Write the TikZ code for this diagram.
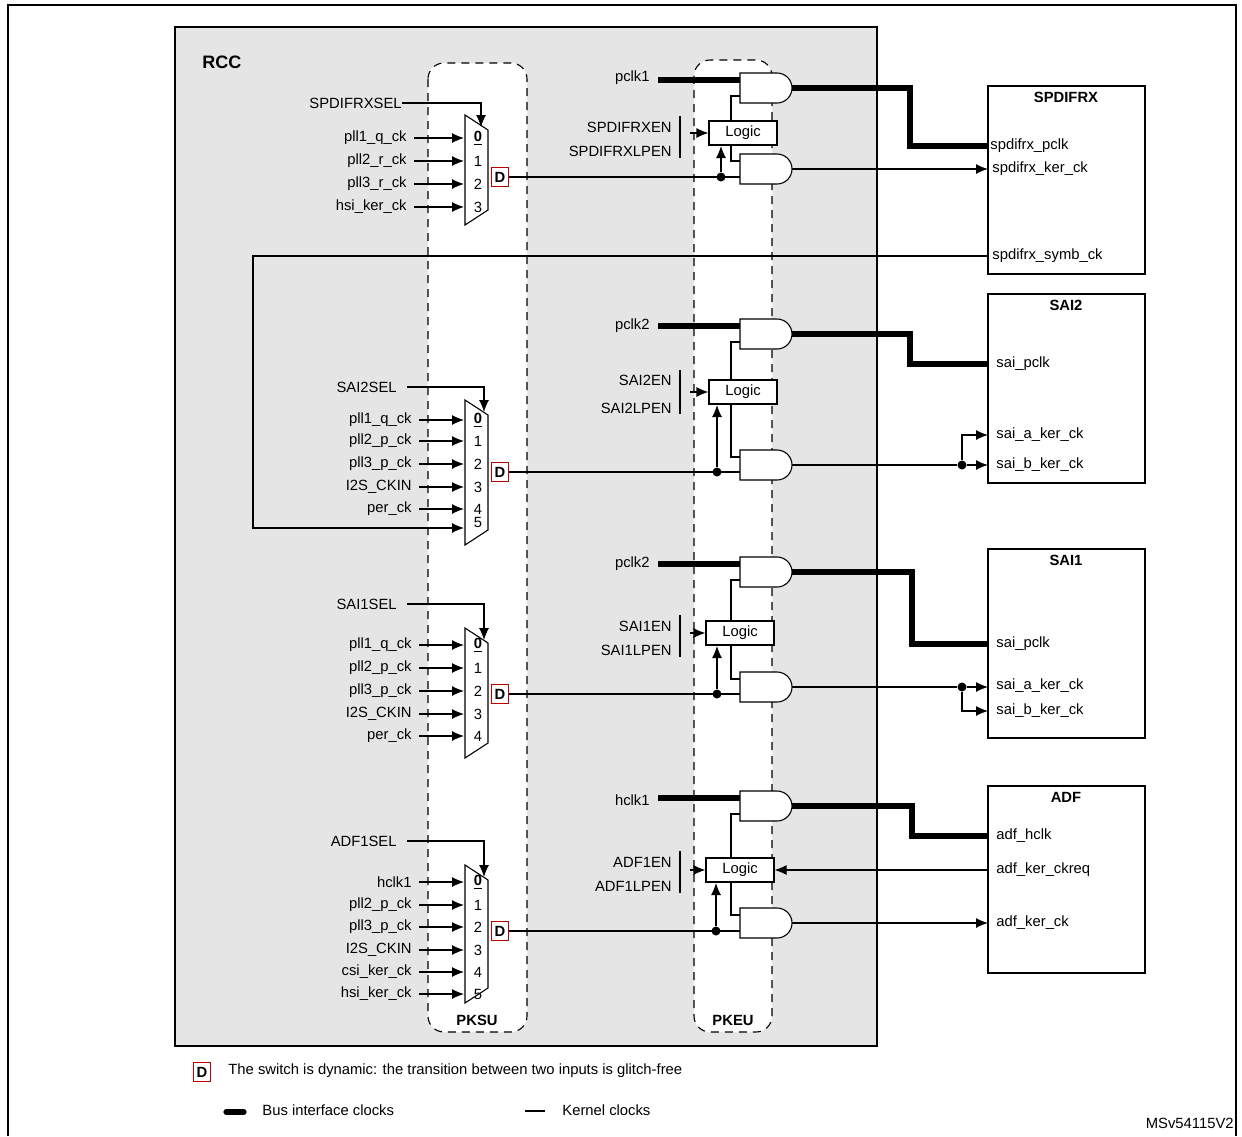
\documentclass[tikz,border=0pt]{standalone}
\usepackage{fontspec}
\setmainfont{Liberation Sans}
\usetikzlibrary{arrows.meta}
\newcommand\lab{\fontsize{7.4}{8.6}\selectfont}
\newcommand\myand[2]{\draw[thn,fill=white] (740,#2-15) -- (777,#2-15) arc[start angle=-90,end angle=90,radius=15] -- (740,#2+15) -- cycle; \coordinate (#1) at (792,#2);}
\newcommand\muxin[4]{\node[r] at (#1,#2){#3}; \draw[ar] (#1+7,#2) -- (464,#2); \node[lbl] at (478,#2){#4};}
\newcommand\dbox[2]{\node[dbx] (#1) at (500,#2){D};}
\begin{document}
\begin{tikzpicture}[x=0.5pt,y=-0.5pt,
 lbl/.style={font=\lab,inner sep=0},
 r/.style={lbl,anchor=east}, l/.style={lbl,anchor=west},
 bt/.style={font=\lab\bfseries,inner sep=0},
 thn/.style={line width=0.55pt},
 ar/.style={thn,-{Latex[length=6pt,width=5pt]}},
 bus/.style={line width=2.6pt},
 dsh/.style={thn,dash pattern=on 4pt off 3pt,rounded corners=8pt,fill=white},
 dbx/.style={draw=red!75!black,fill=white,font=\lab\bfseries,minimum width=8.5pt,minimum height=9.5pt,inner sep=0.5pt,line width=0.5pt},
 logic/.style={draw,thn,fill=white,font=\lab,minimum width=34pt,minimum height=12pt,inner sep=0},
 blk/.style={draw,line width=1pt},
 dot/.style={circle,fill,inner sep=0,minimum size=4.5pt}]
\useasboundingbox (0,0) rectangle (1242,1136);
\fill[white] (0,0) rectangle (1242,1136);
\draw[line width=0.9pt] (8,1136) -- (8,5) -- (1236,5) -- (1236,1136);
% RCC
\draw[line width=1pt,fill=black!10] (175,27) rectangle (877,1046);
\node[bt,font=\fontsize{9}{10}\selectfont\bfseries,anchor=west] (rcc) at (202,62){RCC};
\draw[dsh] (428,63) rectangle (527,1032);
\draw[dsh] (694,60) rectangle (772,1032);
\node[bt] (pksu) at (477,1020){PKSU};
\node[bt] (pkeu) at (733,1020){PKEU};
% peripheral boxes
\draw[blk,fill=white] (988,86) rectangle (1145,274);
\node[bt] at (1066,97){SPDIFRX};
\draw[blk,fill=white] (988,294) rectangle (1145,483);
\node[bt] at (1066,305){SAI2};
\draw[blk,fill=white] (988,549) rectangle (1145,738);
\node[bt] at (1066,560){SAI1};
\draw[blk,fill=white] (988,786) rectangle (1145,973);
\node[bt] at (1066,797){ADF};

%%%%% Block 1 SPDIFRX
\draw[thn,fill=white] (465,115) -- (488,130) -- (488,210) -- (465,225) -- cycle;
\node[r] (sel1) at (402,103){SPDIFRXSEL};
\draw[ar] (sel1.east) -- (481,103) -- (481,127);
\muxin{407}{138}{pll1\_q\_ck}{\underline{\textbf{0}}}
\muxin{407}{161}{pll2\_r\_ck}{1}
\muxin{407}{184}{pll3\_r\_ck}{2}
\muxin{407}{207}{hsi\_ker\_ck}{3}
\myand{g11}{88}
\myand{g12}{169}
\node[logic] (lg1) at (743,133){Logic};
\node[r] at (672,127){SPDIFRXEN};
\node[r] at (672,151){SPDIFRXLPEN};
\draw[thn] (680,116) -- (680,158);
\draw[ar] (690,133) -- (lg1.west);
\node[r] (pc1) at (650,78){pclk1};
\draw[bus] (658,80) -- (740,80);
\draw[thn] (lg1.north -| 731,0) -- (731,96) -- (740,96);
\draw[thn] (lg1.south -| 731,0) -- (731,161) -- (740,161);
\dbox{d1}{177}
\draw[thn] (d1.east) -- (740,177);
\node[dot] (dt1) at (721,177){};
\draw[ar] (dt1) -- (721,146);
\draw[bus] (g11) -- (910,88) -- (910,146) -- (988,146);
\draw[ar] (g12) -- (988,169);
\node[l] at (990,146){spdifrx\_pclk};
\node[l] at (992,169){spdifrx\_ker\_ck};
\node[l] at (992,256){spdifrx\_symb\_ck};

%%%%% Block 2 SAI2
\draw[thn,fill=white] (465,400) -- (488,415) -- (488,530) -- (465,545) -- cycle;
\node[r] (sel2) at (397,387){SAI2SEL};
\draw[ar] (407,387) -- (484,387) -- (484,412);
\muxin{412}{420}{pll1\_q\_ck}{\underline{\textbf{0}}}
\muxin{412}{441}{pll2\_p\_ck}{1}
\muxin{412}{464}{pll3\_p\_ck}{2}
\muxin{412}{487}{I2S\_CKIN}{3}
\muxin{412}{509}{per\_ck}{4}
\node[lbl] at (478,522){5};
\draw[ar] (988,256) -- (253,256) -- (253,528) -- (464,528);
\myand{g21}{334}
\myand{g22}{465}
\node[logic] (lg2) at (743,392){Logic};
\node[r] at (672,380){SAI2EN};
\node[r] at (672,408){SAI2LPEN};
\draw[thn] (680,370) -- (680,414);
\draw[ar] (690,392) -- (lg2.west);
\node[r] at (650,326){pclk2};
\draw[bus] (658,326) -- (740,326);
\draw[thn] (lg2.north -| 731,0) -- (731,342) -- (740,342);
\draw[thn] (lg2.south -| 731,0) -- (731,457) -- (740,457);
\dbox{d2}{472}
\draw[thn] (d2.east) -- (740,472);
\node[dot] (dt2) at (717,472){};
\draw[ar] (dt2) -- (717,405);
\draw[bus] (g21) -- (910,334) -- (910,364) -- (988,364);
\node[dot] (dt22) at (962,465){};
\draw[thn] (g22) -- (dt22);
\draw[ar] (dt22) -- (988,465);
\draw[ar] (dt22) -- (962,435) -- (988,435);
\node[l] at (996,364){sai\_pclk};
\node[l] at (996,435){sai\_a\_ker\_ck};
\node[l] at (996,465){sai\_b\_ker\_ck};

%%%%% Block 3 SAI1
\draw[thn,fill=white] (465,628) -- (488,643) -- (488,743) -- (465,758) -- cycle;
\node[r] at (397,604){SAI1SEL};
\draw[ar] (407,604) -- (484,604) -- (484,640);
\muxin{412}{645}{pll1\_q\_ck}{\underline{\textbf{0}}}
\muxin{412}{668}{pll2\_p\_ck}{1}
\muxin{412}{691}{pll3\_p\_ck}{2}
\muxin{412}{714}{I2S\_CKIN}{3}
\muxin{412}{736}{per\_ck}{4}
\myand{g31}{572}
\myand{g32}{687}
\node[logic] (lg3) at (740,633){Logic};
\node[r] at (672,626){SAI1EN};
\node[r] at (672,650){SAI1LPEN};
\draw[thn] (680,615) -- (680,657);
\draw[ar] (690,633) -- (lg3.west);
\node[r] at (650,564){pclk2};
\draw[bus] (658,564) -- (740,564);
\draw[thn] (lg3.north -| 731,0) -- (731,580) -- (740,580);
\draw[thn] (lg3.south -| 731,0) -- (731,679) -- (740,679);
\dbox{d3}{694}
\draw[thn] (d3.east) -- (740,694);
\node[dot] (dt3) at (717,694){};
\draw[ar] (dt3) -- (717,646);
\draw[bus] (g31) -- (912,572) -- (912,644) -- (988,644);
\node[dot] (dt32) at (962,687){};
\draw[thn] (g32) -- (dt32);
\draw[ar] (dt32) -- (988,687);
\draw[ar] (dt32) -- (962,711) -- (988,711);
\node[l] at (996,644){sai\_pclk};
\node[l] at (996,686){sai\_a\_ker\_ck};
\node[l] at (996,711){sai\_b\_ker\_ck};

%%%%% Block 4 ADF
\draw[thn,fill=white] (465,865) -- (488,880) -- (488,988) -- (465,1003) -- cycle;
\node[r] at (397,841){ADF1SEL};
\draw[ar] (407,841) -- (484,841) -- (484,877);
\muxin{412}{882}{hclk1}{\underline{\textbf{0}}}
\muxin{412}{905}{pll2\_p\_ck}{1}
\muxin{412}{927}{pll3\_p\_ck}{2}
\muxin{412}{950}{I2S\_CKIN}{3}
\muxin{412}{972}{csi\_ker\_ck}{4}
\muxin{412}{994}{hsi\_ker\_ck}{5}
\myand{g41}{806}
\myand{g42}{923}
\node[logic] (lg4) at (740,870){Logic};
\node[r] at (672,862){ADF1EN};
\node[r] at (672,886){ADF1LPEN};
\draw[thn] (680,851) -- (680,893);
\draw[ar] (690,870) -- (lg4.west);
\node[r] at (650,800){hclk1};
\draw[bus] (658,798) -- (740,798);
\draw[thn] (lg4.north -| 731,0) -- (731,814) -- (740,814);
\draw[thn] (lg4.south -| 731,0) -- (731,915) -- (740,915);
\dbox{d4}{931}
\draw[thn] (d4.east) -- (740,931);
\node[dot] (dt4) at (716,931){};
\draw[ar] (dt4) -- (716,883);
\draw[bus] (g41) -- (912,806) -- (912,836) -- (988,836);
\draw[ar] (988,870) -- (lg4.east);
\draw[ar] (g42) -- (988,923);
\node[l] at (996,836){adf\_hclk};
\node[l] at (996,870){adf\_ker\_ckreq};
\node[l] at (996,923){adf\_ker\_ck};

%%%%% legend
\node[dbx] (ld) at (202,1072){D};
\node[l] at (228,1071){The switch is dynamic: the transition between two inputs is glitch-free};
\draw[bus,line cap=round] (226,1112) -- (244,1112);
\node[l] at (262,1110){Bus interface clocks};
\draw[thn] (525,1111) -- (545,1111);
\node[l] at (562,1110){Kernel clocks};
\node[r] at (1234,1123){MSv54115V2};
\end{tikzpicture}
\end{document}
